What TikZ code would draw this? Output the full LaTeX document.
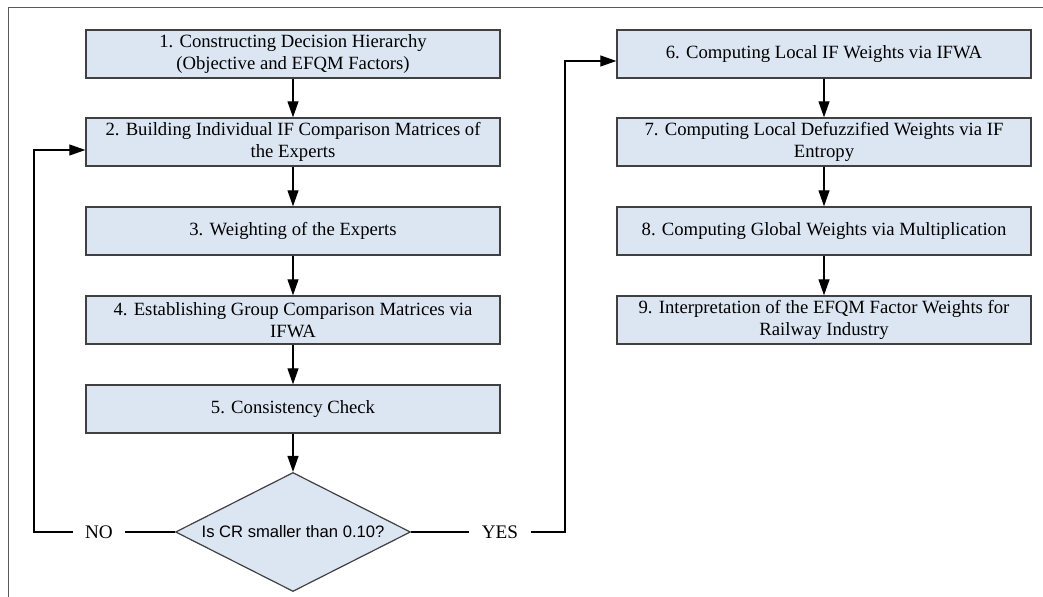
\documentclass[tikz,border=0pt]{standalone}
\usepackage{fontspec}
\setmainfont{Liberation Serif}
\newfontfamily\arialfont{Liberation Sans}
\usepackage{xcolor}
\definecolor{boxfill}{RGB}{220,230,242}
\definecolor{boxline}{RGB}{64,64,64}
\definecolor{frameline}{RGB}{90,90,90}
\usetikzlibrary{arrows.meta,positioning,shapes.geometric,calc}

\tikzset{
  stepbox/.style={draw=boxline, fill=boxfill, line width=0.7pt, minimum width=207pt, minimum height=24pt, inner sep=0pt, align=center, font=\fontsize{9.35}{11}\selectfont},
  decbox/.style={diamond, draw=boxline, fill=boxfill, line width=0.6pt, aspect=2, inner sep=0pt, minimum width=117.5pt, minimum height=59.5pt, font=\arialfont\fontsize{8.3}{10}\selectfont},
  answer/.style={inner xsep=6pt, inner ysep=0pt, font=\fontsize{9.6}{11}\selectfont},
  flow/.style={-{Triangle[length=8pt,width=5.5pt]}, line width=0.6pt},
  link/.style={line width=0.6pt}
}

\begin{document}
\begin{tikzpicture}[x=0.5pt, y=-0.5pt]
  \useasboundingbox (0,0) rectangle (1043,597);

  % outer frame (only top and left edges are visible)
  \draw[frameline, line width=0.5pt] (8,597) -- (8,8) -- (1043,8);

  % left column: steps 1-5
  \node[stepbox] (b1) at (293,54)  {1. Constructing Decision Hierarchy\\(Objective and EFQM Factors)};
  \node[stepbox] (b2) at (293,142) {2. Building Individual IF Comparison Matrices of\\the Experts};
  \node[stepbox] (b3) at (293,231) {3. Weighting of the Experts};
  \node[stepbox] (b4) at (293,320) {4. Establishing Group Comparison Matrices via\\IFWA};
  \node[stepbox] (b5) at (293,409) {5. Consistency Check};

  % consistency decision
  \node[decbox] (dec) at (293,532) {Is CR smaller than 0.10?};
  \node[answer] (no)  at (99,532)  {NO};
  \node[answer] (yes) at (500,532) {YES};

  % right column: steps 6-9
  \node[stepbox] (b6) at (824,54)  {6. Computing Local IF Weights via IFWA};
  \node[stepbox] (b7) at (824,142) {7. Computing Local Defuzzified Weights via IF\\Entropy};
  \node[stepbox] (b8) at (824,231) {8. Computing Global Weights via Multiplication};
  \node[stepbox] (b9) at (824,320) {9. Interpretation of the EFQM Factor Weights for\\Railway Industry};

  % straight arrows down each column
  \draw[flow] (b1) -- (b2);
  \draw[flow] (b2) -- (b3);
  \draw[flow] (b3) -- (b4);
  \draw[flow] (b4) -- (b5);
  \draw[flow] (b5) -- (dec);
  \draw[flow] (b6) -- (b7);
  \draw[flow] (b7) -- (b8);
  \draw[flow] (b8) -- (b9);

  % NO: back to step 2, YES: on to step 6
  \coordinate (noup)  at (34,150);
  \coordinate (yesup) at (565,61);
  \draw[link] (dec.west) -- (no.east);
  \draw[flow] (no.west) -| (noup) -- (noup -| b2.west);
  \draw[link] (dec.east) -- (yes.west);
  \draw[flow] (yes.east) -| (yesup) -- (yesup -| b6.west);
\end{tikzpicture}
\end{document}
